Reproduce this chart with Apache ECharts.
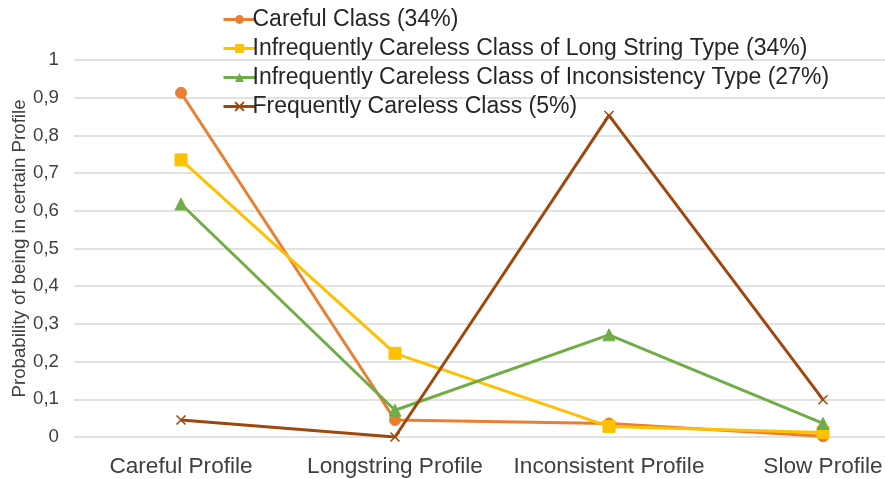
<!DOCTYPE html>
<html>
<head>
<meta charset="utf-8">
<script src="https://cdn.jsdelivr.net/npm/echarts@6/dist/echarts.min.js"></script>
<style>
  html, body { margin: 0; padding: 0; background: #fff; }
  #chart { width: 885px; height: 479px; }
</style>
</head>
<body>
<div id="chart"></div>
<script>
// Profiles on the x axis
const categories = ['Careful Profile', 'Longstring Profile', 'Inconsistent Profile', 'Slow Profile'];

// Probability of each latent class being in a given profile
const carefulClass = [0.913, 0.045, 0.036, 0.002];
const longStringClass = [0.735, 0.222, 0.028, 0.012];
const inconsistencyClass = [0.618, 0.071, 0.271, 0.036];
const frequentlyCarelessClass = [0.045, 0.0, 0.853, 0.099];

const seriesNames = [
  'Careful Class (34%)',
  'Infrequently Careless Class of Long String Type (34%)',
  'Infrequently Careless Class of Inconsistency Type (27%)',
  'Frequently Careless Class (5%)'
];

const yTicks = [0, 0.1, 0.2, 0.3, 0.4, 0.5, 0.6, 0.7, 0.8, 0.9, 1];

const colors = ['#ED7D31', '#FFC000', '#70AD47', '#9E480E'];
const crossSymbol = 'path://M0,0 L1,1 M1,0 L0,1';

const chart = echarts.init(document.getElementById('chart'), null, { renderer: 'canvas' });

function lineSeries(name, data, color, symbol, size, extra) {
  return Object.assign({
    name: name,
    type: 'line',
    data: data,
    symbol: symbol,
    symbolSize: size,
    showAllSymbol: true,
    lineStyle: { color: color, width: 3 },
    itemStyle: { color: color, borderColor: color },
    emphasis: { disabled: true },
    animation: false
  }, extra || {});
}

chart.setOption({
  animation: false,
  textStyle: { fontFamily: 'Liberation Sans, Arial, sans-serif' },
  color: colors,
  // the plot area runs past the right edge of the canvas
  grid: { left: 74, top: 60, width: 856, height: 377, containLabel: false, outerBoundsMode: 'none' },
  legend: {
    orient: 'vertical',
    left: 217,
    top: 3,
    itemWidth: 32,
    itemHeight: 11,
    itemGap: 6,
    lineStyle: { width: 3 },
    textStyle: { fontSize: 23, color: '#262626', lineHeight: 23, padding: [0, 0, 0, -8] },
    data: seriesNames.map(n => ({ name: n }))
  },
  xAxis: {
    type: 'category',
    data: categories,
    boundaryGap: true,
    axisLine: { show: false },
    axisTick: { show: false },
    axisLabel: { fontSize: 22.6, color: '#404040', margin: 18, interval: 0 }
  },
  yAxis: {
    type: 'value',
    min: 0,
    max: 1,
    interval: 0.1,
    name: 'Probability of being in certain Profile',
    nameLocation: 'middle',
    nameGap: 45,
    nameMoveOverlap: false,
    nameTextStyle: { fontSize: 18.7, color: '#404040' },
    axisLine: { show: false },
    axisTick: { show: false },
    splitLine: { lineStyle: { color: '#D9D9D9', width: 1.5 } },
    axisLabel: {
      fontSize: 18.7,
      color: '#404040',
      margin: 15,
      formatter: v => {
        const t = yTicks.find(x => Math.abs(x - v) < 1e-9);
        return t === undefined ? '' : String(+t.toFixed(1)).replace('.', ',');
      }
    }
  },
  series: [
    lineSeries(seriesNames[0], carefulClass, colors[0], 'circle', 11),
    lineSeries(seriesNames[1], longStringClass, colors[1], 'rect', 12),
    lineSeries(seriesNames[2], inconsistencyClass, colors[2], 'triangle', 12),
    lineSeries(seriesNames[3], frequentlyCarelessClass, colors[3], crossSymbol, 9, {
      itemStyle: { color: 'none', borderColor: colors[3], borderWidth: 1.5 }
    })
  ]
});
</script>
</body>
</html>
